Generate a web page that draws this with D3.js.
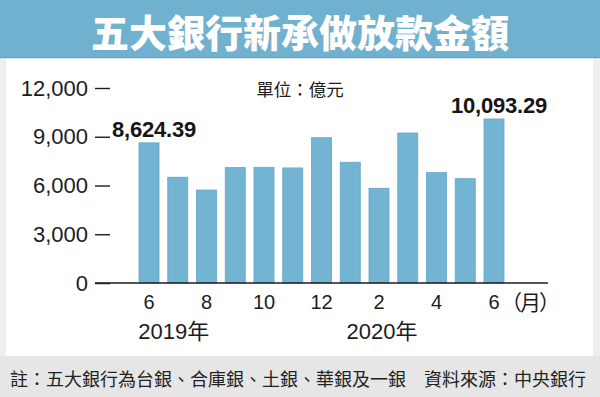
<!DOCTYPE html>
<html>
<head>
<meta charset="utf-8">
<script src="https://cdn.jsdelivr.net/npm/d3@7/dist/d3.min.js"></script>
<style>
html,body{margin:0;padding:0;background:#fff;}
svg{display:block;}
</style>
</head>
<body>
<svg id="chart" width="600" height="397"></svg>
<script>
// ---- data ----
const months = ["2019-06","2019-07","2019-08","2019-09","2019-10","2019-11","2019-12",
                "2020-01","2020-02","2020-03","2020-04","2020-05","2020-06"];
const values = [8624.39, 6510, 5720, 7100, 7120, 7080, 8940, 7430, 5830, 9230, 6790, 6420, 10093.29];
const yTicks = [0, 3000, 6000, 9000, 12000];
const xTickMonths = ["2019-06","2019-08","2019-10","2019-12","2020-02","2020-04","2020-06"];
const xTickLabels = ["6","8","10","12","2","4","6"];
const yearLabels = [{ref:"2019-07", text:"2019年", dx:-4}, {ref:"2020-02", text:"2020年", dx:3}];
const highlight = [{idx:0, text:"8,624.39", anchor:"start"}, {idx:12, text:"10,093.29", anchor:"end"}];
const titleText = "五大銀行新承做放款金額";
const unitText = "單位：億元";
const monthUnit = "（月）";
const footerText = "註：五大銀行為台銀、合庫銀、土銀、華銀及一銀　資料來源：中央銀行";

// ---- styles ----
const W = 600, H = 397;
const blue = "#70b1d0";
const latin = "'Liberation Sans', Arial, 'Noto Sans CJK TC', sans-serif";
const cjk = "'Noto Sans CJK TC', 'Noto Sans CJK SC', sans-serif";
const ink = "#1c1c1c";

const svg = d3.select("#chart");

// background frame
svg.append("rect").attr("x",0).attr("y",0).attr("width",W).attr("height",H).attr("fill","#efefef");
svg.append("rect").attr("x",6).attr("y",58).attr("width",587).attr("height",298).attr("fill","#ffffff");
svg.append("rect").attr("x",0).attr("y",356).attr("width",W).attr("height",41).attr("fill","#e6e6e6");

// title band
svg.append("rect").attr("x",0).attr("y",0).attr("width",W).attr("height",58).attr("fill",blue);
svg.append("rect").attr("x",0).attr("y",57).attr("width",W).attr("height",1.2).attr("fill","#5f9fc0");
svg.append("text").attr("x",W/2).attr("y",30).attr("text-anchor","middle")
  .attr("dominant-baseline","central")
  .attr("font-family",cjk).attr("font-weight",900).attr("font-size",38)
  .attr("fill","#ffffff").text(titleText);

// scales
const x = d3.scaleBand().domain(months).range([139, 504]).paddingInner(0.304).paddingOuter(0);
const y = d3.scaleLinear().domain([0, 12000]).range([283, 88]);

// unit label
svg.append("text").attr("x",300).attr("y",88).attr("text-anchor","middle")
  .attr("dominant-baseline","central")
  .attr("font-family",cjk).attr("font-size",17.5).attr("fill",ink).text(unitText);

// bars
svg.append("g").selectAll("rect").data(values).join("rect")
  .attr("x",(d,i)=>x(months[i]))
  .attr("y",d=>y(d))
  .attr("width",x.bandwidth())
  .attr("height",d=>y(0)-y(d))
  .attr("fill","#74b4d3")
  .attr("stroke","#64a6c6").attr("stroke-width",0.8);

// y axis
const yAxis = d3.axisLeft(y).tickValues(yTicks).tickSize(15).tickPadding(7)
  .tickFormat(d3.format(","));
const gy = svg.append("g").attr("transform","translate(110,0)").call(yAxis);
gy.select(".domain").remove();
gy.selectAll(".tick line").attr("stroke",ink).attr("stroke-width",1.4);
gy.selectAll(".tick text").attr("font-family",latin).attr("font-size",22).attr("fill",ink);

// baseline
svg.append("line").attr("x1",95).attr("x2",548).attr("y1",y(0)).attr("y2",y(0))
  .attr("stroke",ink).attr("stroke-width",1.6);

// x axis
const labelMap = new Map(xTickMonths.map((m,i)=>[m, xTickLabels[i]]));
const xAxis = d3.axisBottom(x).tickValues(xTickMonths).tickSize(0).tickPadding(12)
  .tickFormat(m=>labelMap.get(m));
const gx = svg.append("g").attr("transform",`translate(0,${y(0)})`).call(xAxis);
gx.select(".domain").remove();
gx.selectAll(".tick text").attr("font-family",latin).attr("font-size",20).attr("fill",ink);

// month unit
const lastM = months[months.length-1];
svg.append("text").attr("x",x(lastM)+x.bandwidth()/2+7).attr("y",y(0)+27)
  .attr("font-family",cjk).attr("font-size",21).attr("letter-spacing",-2).attr("fill",ink).text(monthUnit);

// year labels
svg.append("g").selectAll("text").data(yearLabels).join("text")
  .attr("x",d=>x(d.ref)+x.bandwidth()/2+d.dx)
  .attr("y",339)
  .attr("text-anchor","middle")
  .attr("font-family",latin).attr("font-size",22).attr("fill",ink)
  .text(d=>d.text);

// highlight labels
svg.append("g").selectAll("text").data(highlight).join("text")
  .attr("x",d=>d.anchor==="start" ? x(months[d.idx])-27 : x(months[d.idx])+x.bandwidth()+43)
  .attr("y",d=>y(values[d.idx])-5.5)
  .attr("text-anchor",d=>d.anchor)
  .attr("font-family",latin).attr("font-weight",700).attr("font-size",22)
  .attr("letter-spacing",-0.2)
  .attr("fill","#151515")
  .text(d=>d.text);

// footer
svg.append("text").attr("x",W/2-2).attr("y",378).attr("text-anchor","middle")
  .attr("dominant-baseline","central")
  .attr("font-family",cjk).attr("font-size",18).attr("fill","#222").text(footerText);
</script>
</body>
</html>
